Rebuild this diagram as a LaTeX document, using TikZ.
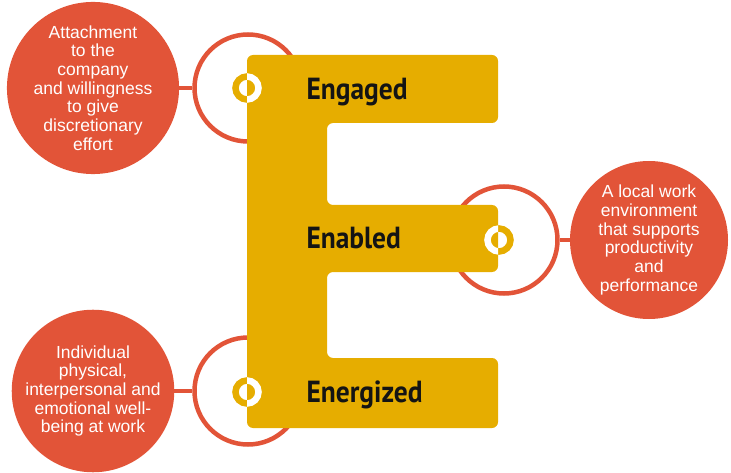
\documentclass[tikz,border=0pt]{standalone}
\usepackage{fontspec}
\setmainfont{Liberation Sans}
\newfontfamily\efont[FakeStretch=0.9]{PT Sans}
\definecolor{eyellow}{RGB}{230,173,0}
\definecolor{ered}{RGB}{226,84,56}
\newcommand\letterE{(247,55) -- (498,55) -- (498,123) -- (327,123) -- (327,205) -- (498,205) -- (498,272) -- (327,272) -- (327,358) -- (498,358) -- (498,428) -- (247,428) -- cycle}

\begin{document}
\begin{tikzpicture}[
x=1pt, y=-1pt,
bubble/.style={circle, fill=ered, text=white, minimum size=158pt, inner sep=0pt, align=center, font=\fontsize{17.5}{18.7}\selectfont},
halo/.style={circle, draw=ered, line width=4.5pt, minimum size=107pt, inner sep=0pt},
link/.style={draw=ered, line width=4pt},
marker/.style={circle, draw=eyellow, line width=6.5pt, minimum size=23pt, inner sep=0pt},
word/.style={anchor=base west, text=black!92, font=\efont\bfseries\fontsize{30.5}{30.5}\selectfont},
]
\useasboundingbox (0,0) rectangle (731,473);
\node (haloA) [halo] at (248,88) {};
\node (haloB) [halo] at (504,240) {};
\node (haloC) [halo] at (248,391) {};
\node (attach) [bubble] at (93,88) {Attachment\\to the\\company\\and willingness\\to give\\discretionary\\effort};
\node (envir) [bubble] at (649,240) {A local work\\environment\\that supports\\productivity\\and\\performance};
\node (wellbeing) [bubble] at (93,391) {Individual\\physical,\\interpersonal and\\emotional well-\\being at work};
\draw[link] (attach) -- (haloA);
\draw[link] (haloB) -- (envir);
\draw[link] (wellbeing) -- (haloC);
\fill[eyellow, rounded corners=6pt] \letterE;
\node (engaged) [word] at (303,100) {Engaged};
\node (enabled) [word] at (303,248) {Enabled};
\node (energized) [word] at (303,402) {Energized};
\node (markA) [marker] at (247,88) {};
\node (markB) [marker] at (499,240) {};
\node (markC) [marker] at (247,392) {};
\begin{scope}
\clip[rounded corners=6pt] \letterE;
\foreach \m in {markA, markB, markC}
    \node [marker, draw=white] at (\m) {};
\end{scope}
\end{tikzpicture}
\end{document}
